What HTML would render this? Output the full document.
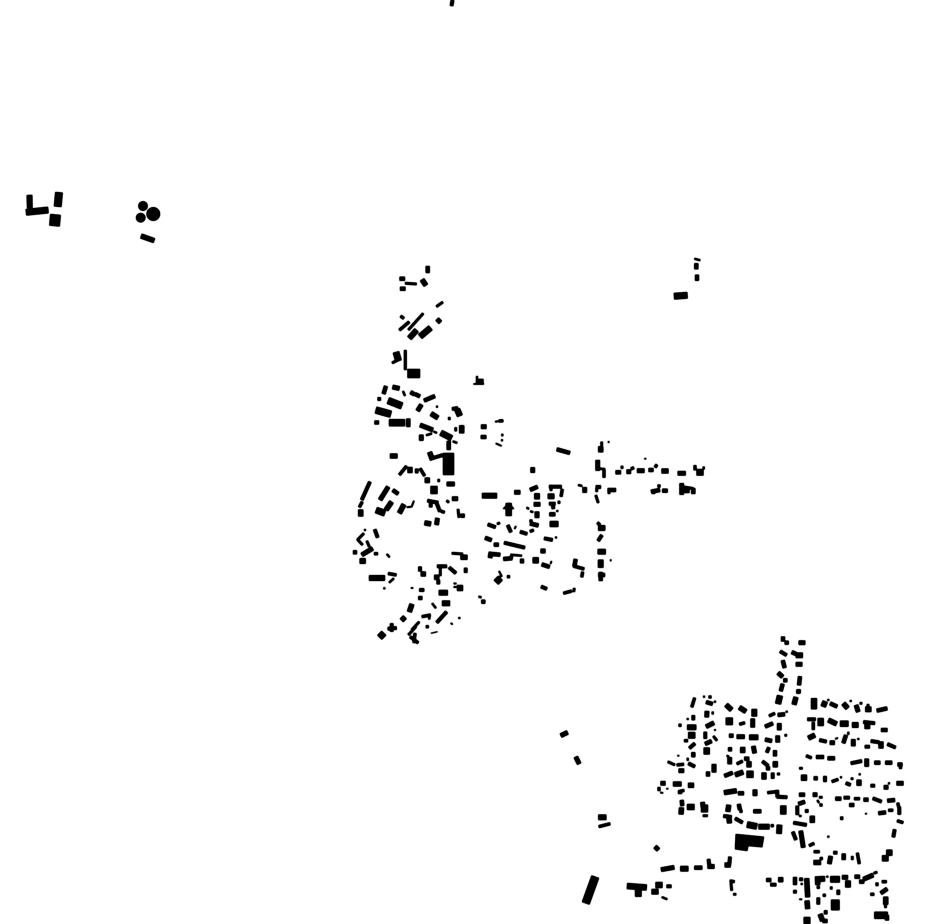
<!DOCTYPE html>
<html><head><meta charset="utf-8"><title>Map</title>
<style>html,body{margin:0;padding:0;background:#fff}svg{display:block}</style></head>
<body>
<svg width="930" height="924" viewBox="0 0 930 924" xmlns="http://www.w3.org/2000/svg" fill="none" stroke="#000">
<defs><filter id="f" filterUnits="userSpaceOnUse" x="0" y="0" width="930" height="924" color-interpolation-filters="sRGB"><feGaussianBlur stdDeviation="0.6"/><feComponentTransfer><feFuncA type="linear" slope="2.2" intercept="-0.1"/></feComponentTransfer></filter></defs>
<g filter="url(#f)">
<path stroke-width="3.5" d="M452.5 0L451.5 6"/>
<path stroke-width="5.5" d="M29.5 195L29.8 208"/>
<path stroke-width="6.5" d="M26 212.3L48.3 210"/>
<path stroke-width="7.5" d="M59 192.3L57.7 206.7"/>
<path stroke-width="10.5" d="M55.5 214.5L54.5 226"/>
<circle cx="143" cy="206" r="4.7" fill="#000" stroke="none"/>
<circle cx="140.7" cy="217.7" r="4.7" fill="#000" stroke="none"/>
<circle cx="153.3" cy="214" r="6.7" fill="#000" stroke="none"/>
<path stroke-width="5" d="M141 236L154.3 240.7"/>
<path stroke-width="2" d="M694.3 258.7L700.3 260.3"/>
<path stroke-width="4" d="M696.3 263.3v6M697 274.7v6"/>
<path stroke-width="6.5" d="M674 296.3L687.5 295.3"/>
<path stroke-width="4" d="M427.7 266v7"/>
<path stroke-width="4" d="M399.5 278.7h5.5M400 288.7h5.5"/>
<path stroke-width="2.5" d="M405 283.3L416.7 284"/>
<path stroke-width="5" d="M422 279.5L426 285.5"/>
<path stroke-width="2.5" d="M436.3 306.7L443 302"/>
<path stroke-width="3" d="M400.5 316L404 318.5"/>
<path stroke-width="3" d="M399.3 330.3L409.3 321.7"/>
<path stroke-width="2.5" d="M408.3 330L423.3 313.3"/>
<path stroke-width="5.5" d="M409.3 338.3L416.7 330"/>
<path stroke-width="6" d="M420 336.7L430.7 327.7"/>
<path stroke-width="4.5" d="M437 319L440.5 322.5"/>
<path stroke-width="6.5" d="M396 352L398.5 361"/>
<path stroke-width="2.5" d="M392 363L400 359"/>
<path stroke-width="2.7" d="M405.3 350V370"/>
<path stroke-width="9" d="M407.5 373.5H420"/>
<path stroke-width="2" d="M477 376v8"/>
<path stroke-width="5.5" d="M476.5 381.7h7"/>
<path stroke-width="1.3" d="M473.3 384H484"/>
<path stroke-width="4" d="M386 386L383.5 394"/>
<path stroke-width="4.5" d="M392.5 387L399.5 388.5"/>
<path stroke-width="2" d="M403 391L405 396"/>
<path stroke-width="4" d="M410.5 392L414.5 394.5M415 394L420 396.5"/>
<path stroke-width="4" d="M424 400.7L435 396"/>
<path stroke-width="4.5" d="M421.5 404.5L417.5 411"/>
<path stroke-width="2" d="M436 406.7h2"/>
<path stroke-width="3.5" d="M377.5 399h3.5"/>
<path stroke-width="7" d="M388 400.5L402 406"/>
<path stroke-width="7" d="M375.7 410L391 414.3"/>
<path stroke-width="4.5" d="M376.7 420.5v4"/>
<path stroke-width="7" d="M389 422.7H405"/>
<path stroke-width="4" d="M408.3 418.5v8.5"/>
<path stroke-width="3.5" d="M452 409L458 408"/>
<path stroke-width="6" d="M457 409L460 416"/>
<path stroke-width="5" d="M431 413.5L438 418"/>
<path stroke-width="2.5" d="M449.3 417v3"/>
<path stroke-width="4.5" d="M420 425L433 430"/>
<path stroke-width="2" d="M433.5 431.5L437 433"/>
<path stroke-width="6" d="M440.7 432.7L451.7 438.3"/>
<path stroke-width="4.5" d="M421.3 434.7v6"/>
<path stroke-width="2" d="M426 435.3L432 433.5"/>
<path stroke-width="5" d="M461.7 425.3v8"/>
<path stroke-width="2.5" d="M455.7 427.3v4"/>
<path stroke-width="4" d="M448.7 441v9"/>
<path stroke-width="2" d="M452.7 441.3L457.3 443"/>
<path stroke-width="4.5" d="M481 426.7h5.5"/>
<path stroke-width="4" d="M480.8 437h5.5"/>
<path stroke-width="1.5" d="M495 421.7L498.3 421.3"/>
<path stroke-width="3" d="M498.7 421L503.3 420.7"/>
<path stroke-width="2" d="M502.3 433.7v2.5M502 439.3v2"/>
<path stroke-width="1.5" d="M495.7 443.3L501.7 446"/>
<path stroke-width="5" d="M390 456h7.5"/>
<path stroke-width="5" d="M429.5 452L432.5 460"/>
<path stroke-width="3.5" d="M433 458L443 455"/>
<path stroke-width="11" d="M448.5 453V475"/>
<path stroke-width="3" d="M399.3 475L406.7 466"/>
<path stroke-width="5" d="M410 467v6"/>
<path stroke-width="3.5" d="M416.7 468.7v4.5"/>
<path stroke-width="3" d="M420 468.3L424.7 476"/>
<path stroke-width="5.5" d="M424.8 480.3h5"/>
<path stroke-width="2.5" d="M438.7 479v3"/>
<path stroke-width="4.5" d="M446.7 484h8"/>
<path stroke-width="7" d="M434 486v8"/>
<path stroke-width="4.5" d="M452 498.7h6"/>
<path stroke-width="2.5" d="M446.5 500.5L449 502.5"/>
<path stroke-width="3.5" d="M427.3 500.7L438.3 502.7"/>
<path stroke-width="3.5" d="M430.7 503.3v4"/>
<path stroke-width="3.5" d="M436.7 503.3L440 511.7"/>
<path stroke-width="3" d="M440.7 511L444.7 512.5"/>
<path stroke-width="2.5" d="M458 509L459 517.7"/>
<path stroke-width="4" d="M460.7 515.7h4"/>
<path stroke-width="5" d="M424.5 522.8L431 524"/>
<path stroke-width="4.5" d="M437.5 518L436.5 525"/>
<path stroke-width="3.5" d="M370 481.7L361.7 500"/>
<path stroke-width="3" d="M362.3 501.7L359.3 507.3"/>
<path stroke-width="5" d="M360.7 509.5v7"/>
<path stroke-width="4.5" d="M388.3 486.7L380 500"/>
<path stroke-width="4" d="M392.7 490L398.3 494"/>
<path stroke-width="5" d="M391.7 501.7L386 510"/>
<path stroke-width="6.5" d="M376 510L385 513.3"/>
<path stroke-width="5" d="M404 504.3L399.3 513.3"/>
<path stroke-width="1.5" d="M414 500.7L411.7 506.7L406.7 507.3"/>
<path stroke-width="2" d="M364 530h2"/>
<path stroke-width="3.5" d="M374.7 529.3L377.7 537.7"/>
<path stroke-width="2.5" d="M357.3 540L364 533.3"/>
<path stroke-width="2.5" d="M357.3 539.3L362.7 545"/>
<path stroke-width="2.5" d="M366.7 540.7L369.3 546.7"/>
<path stroke-width="4.5" d="M361.7 555L372.7 548.3"/>
<path stroke-width="4" d="M353 552.3h4"/>
<path stroke-width="3" d="M374 553.7h4"/>
<path stroke-width="2" d="M386.7 554L389.7 557.3"/>
<path stroke-width="5.5" d="M359.7 561h6"/>
<path stroke-width="5.5" d="M369 578H385"/>
<path stroke-width="3" d="M388 573.5L396.5 575"/>
<path stroke-width="2" d="M389 582.7L394 578.3"/>
<path stroke-width="2" d="M383.3 588.3h2"/>
<path stroke-width="1.5" d="M410.8 588h2.5"/>
<path stroke-width="3.5" d="M420 566.5v5"/>
<path stroke-width="5" d="M420.8 574h5"/>
<path stroke-width="3.5" d="M437 566.3h10"/>
<path stroke-width="2.5" d="M440.3 567v9"/>
<path stroke-width="3.5" d="M449 567.3L456 573.3"/>
<path stroke-width="3.5" d="M465.7 567.8v5"/>
<path stroke-width="5" d="M434.2 577.3h5"/>
<path stroke-width="3.5" d="M438.3 579.8v4.5"/>
<path stroke-width="2.5" d="M451.7 553.3L463 554"/>
<path stroke-width="5" d="M460.5 557.3h7"/>
<path stroke-width="6" d="M457 588h6"/>
<path stroke-width="1.5" d="M453.5 583.5h3M453.5 587h3"/>
<path stroke-width="3.5" d="M419.2 590h5"/>
<path stroke-width="4" d="M418.3 598h4"/>
<path stroke-width="5.5" d="M438.8 592.7h9"/>
<path stroke-width="5.5" d="M442 603.3h8"/>
<path stroke-width="2" d="M432 603.3L436 608.3"/>
<path stroke-width="5" d="M412 604L409.3 612"/>
<path stroke-width="5" d="M401.5 620.5L405 617"/>
<path stroke-width="3" d="M421.7 616.7L430.7 615"/>
<path stroke-width="3" d="M428.3 618h2"/>
<path stroke-width="3.5" d="M436.7 622.7L446.7 611.7"/>
<path stroke-width="2" d="M458.3 618h2"/>
<path stroke-width="1.5" d="M450.7 623L452.7 624.5"/>
<path stroke-width="3" d="M425.8 626.7h3"/>
<path stroke-width="1" d="M430.7 633.3L437.7 631.7"/>
<path stroke-width="2.5" d="M411.7 630L419.3 621.7"/>
<path stroke-width="2.5" d="M408.3 635L416 626.7"/>
<path stroke-width="3" d="M410 636.7L418.3 643"/>
<path stroke-width="3" d="M415 633L414 643"/>
<path stroke-width="3.5" d="M387.7 628.7L396.7 628"/>
<path stroke-width="3.5" d="M391.7 623.3V631.7"/>
<path stroke-width="6.5" d="M379.5 637.5L384 633"/>
<path stroke-width="5.5" d="M482 495.7H497"/>
<path stroke-width="4.5" d="M514.3 492.3h6"/>
<path stroke-width="6" d="M508.7 516V503"/>
<polygon fill="#000" stroke="none" points="502.5,509 508.7,502.5 514.5,509"/>
<path stroke-width="4.5" d="M532.7 467.3v5.5"/>
<path stroke-width="4" d="M530 490L537.7 486.7"/>
<path stroke-width="5.5" d="M537 493.3v6"/>
<path stroke-width="4.5" d="M533.8 504.3h6.5"/>
<path stroke-width="2" d="M526.5 507.5L529 509"/>
<path stroke-width="2" d="M530.2 511.2L533.2 512.2"/>
<path stroke-width="4.5" d="M537 511.5v6.5"/>
<path stroke-width="3" d="M529.5 521h3"/>
<path stroke-width="4" d="M530 523.5L538.5 525.5"/>
<path stroke-width="3.5" d="M549 486.7h12.7"/>
<path stroke-width="3" d="M562.3 489L561 496.7"/>
<path stroke-width="2.5" d="M551 488v3"/>
<path stroke-width="5.5" d="M547.8 496.3h6.5"/>
<path stroke-width="3.5" d="M549 503.7h6.5"/>
<path stroke-width="3.5" d="M552.5 503.7L553.5 509"/>
<path stroke-width="2.5" d="M559 500.8v3"/>
<path stroke-width="4" d="M549.3 514.3h6"/>
<path stroke-width="2" d="M556.3 511h2"/>
<path stroke-width="6" d="M549.8 524h8.5"/>
<path stroke-width="3.5" d="M487.7 524.3L495.7 527.3"/>
<path stroke-width="2.5" d="M497 524L500 522.8"/>
<path stroke-width="3.5" d="M507.7 525L511 532.3"/>
<path stroke-width="1.5" d="M514.5 529L516 526"/>
<path stroke-width="3.5" d="M520 531.7L527.3 534"/>
<path stroke-width="3" d="M529.8 531.5L533.8 530"/>
<path stroke-width="3.5" d="M544 538.3L552.7 540"/>
<path stroke-width="2" d="M555 537.5h2"/>
<path stroke-width="4" d="M485 537.7L491.7 540.3"/>
<path stroke-width="4" d="M493.8 544.7h5"/>
<path stroke-width="3.5" d="M504 542.7L525 547.7"/>
<path stroke-width="4.5" d="M540.5 551h5"/>
<path stroke-width="5.5" d="M597.7 551.7h8"/>
<path stroke-width="4" d="M489 553.7L500.3 554.7"/>
<path stroke-width="4.5" d="M491 552L490 558"/>
<path stroke-width="4" d="M503.3 559L512.3 558.3"/>
<path stroke-width="2" d="M511 554.7L522 555.7"/>
<path stroke-width="3" d="M512 554L511 559"/>
<path stroke-width="4.5" d="M520 561h4"/>
<path stroke-width="6" d="M532.7 560.3h6"/>
<path stroke-width="4" d="M541.7 564.3L549.7 567"/>
<path stroke-width="1.5" d="M551.5 561L550.5 564"/>
<path stroke-width="4" d="M575.7 559L574.3 566.7"/>
<path stroke-width="3" d="M573.3 566L584.3 569"/>
<path stroke-width="3" d="M582.7 571.7L581.7 577.3"/>
<path stroke-width="5.5" d="M600.7 559.7v8"/>
<path stroke-width="4" d="M598.3 575H605"/>
<path stroke-width="4" d="M600.7 572v9"/>
<path stroke-width="1.5" d="M610.7 559.3v2"/>
<path stroke-width="3" d="M597.3 522.5L600 525"/>
<path stroke-width="5.5" d="M598.2 528h7"/>
<path stroke-width="3.5" d="M598 541L602 535"/>
<path stroke-width="6.5" d="M496 582.5L500.5 578"/>
<path stroke-width="3" d="M507 576.7h3"/>
<path stroke-width="1.7" d="M499 571L501.5 576L497 578"/>
<path stroke-width="3.5" d="M541 586.5L547 589"/>
<path stroke-width="3" d="M563.3 593.3L571.7 591"/>
<path stroke-width="2.5" d="M574.3 588L573.7 592"/>
<path stroke-width="2" d="M478.5 596.5L481.5 597.5"/>
<path stroke-width="4" d="M481.3 601.7h4"/>
<path stroke-width="4" d="M556.7 449.3L570 453"/>
<path stroke-width="2.5" d="M601.7 441.7v4"/>
<path stroke-width="1.7" d="M607.8 442h1.7"/>
<path stroke-width="5" d="M600.7 446.3v6"/>
<path stroke-width="4.5" d="M597.7 460v10.7"/>
<path stroke-width="2" d="M599 468.7L605 469"/>
<path stroke-width="3" d="M604 469v8.7"/>
<path stroke-width="4" d="M615.5 472.3h5.5"/>
<path stroke-width="2.5" d="M622 465.8v3"/>
<path stroke-width="4.5" d="M626.5 471.7h4.5"/>
<path stroke-width="3" d="M631 469L634 467.5"/>
<path stroke-width="4.5" d="M637 470.7h7.5"/>
<path stroke-width="1.5" d="M644.3 458.7h2"/>
<path stroke-width="4" d="M648.5 470h5"/>
<path stroke-width="3" d="M655 467.5L657 464.5"/>
<path stroke-width="5" d="M661.5 471h7"/>
<path stroke-width="4.5" d="M677.7 473.3h8"/>
<path stroke-width="3" d="M695 465.2v5"/>
<path stroke-width="6.5" d="M696.5 472.3h7"/>
<path stroke-width="2" d="M703.7 466.5v3"/>
<path stroke-width="2" d="M578 485L582.3 486"/>
<path stroke-width="4.5" d="M584.7 487.2v5.5"/>
<path stroke-width="3.5" d="M595.7 487h5.3"/>
<path stroke-width="2.5" d="M596.7 488v4"/>
<path stroke-width="2.5" d="M595.7 495L598.3 503"/>
<path stroke-width="4" d="M607.7 490h8.3"/>
<path stroke-width="2.5" d="M609 488v6"/>
<path stroke-width="4" d="M651 491.7L660 490"/>
<path stroke-width="3" d="M653.5 490v4"/>
<path stroke-width="3" d="M657.5 486h3"/>
<path stroke-width="4" d="M662.2 490.7h5.5"/>
<path stroke-width="4.5" d="M681.7 483.2v11.5"/>
<path stroke-width="2.5" d="M681.7 486.7L693.3 488.5"/>
<path stroke-width="4" d="M693.3 488v6"/>
<path stroke-width="4" d="M684.5 491h5"/>
<path stroke-width="4.5" d="M560.7 735.7L567.7 732.3"/>
<path stroke-width="4.5" d="M575.7 756.7L579.3 764"/>
<path stroke-width="5.5" d="M598.3 817.3h8"/>
<path stroke-width="3" d="M598.7 826.7L610.3 823.7"/>
<path stroke-width="4.5" d="M655 846.5L658.5 850"/>
<path stroke-width="8" d="M595.3 876.7L585.7 903.3"/>
<path stroke-width="6" d="M627 886L646.7 887.5"/>
<path stroke-width="6.5" d="M638.3 886V896.7"/>
<path stroke-width="5.5" d="M651.5 891.7h7"/>
<path stroke-width="6" d="M655.5 885h7"/>
<path stroke-width="3.5" d="M666.5 886.3h5"/>
<path stroke-width="2" d="M661.7 897L667.3 899.3"/>
<path stroke-width="4" d="M783 636.5v5"/>
<path stroke-width="4" d="M784.7 642.7h4"/>
<path stroke-width="4.5" d="M798.7 642.7h6.5"/>
<path stroke-width="3.5" d="M780 651.3L786.7 655.3"/>
<path stroke-width="4" d="M791.7 652L796 654"/>
<path stroke-width="5.5" d="M795.8 655.3h7"/>
<path stroke-width="4" d="M782.7 660.3L784.7 668"/>
<path stroke-width="4.5" d="M795.8 664.3h6.5"/>
<path stroke-width="4.5" d="M778 672.7L782.7 677"/>
<path stroke-width="4" d="M783.3 680.3h4"/>
<path stroke-width="4" d="M800 676.3L799 685.3"/>
<path stroke-width="4" d="M782.7 683.7L780.7 691.3"/>
<path stroke-width="4" d="M796.7 691.3h4"/>
<path stroke-width="6" d="M780 695.5L778 704"/>
<path stroke-width="5" d="M796 697L794 704.7"/>
<path stroke-width="6" d="M814 698.2v11"/>
<path stroke-width="3" d="M694.7 697.7L691.7 707.3"/>
<path stroke-width="2" d="M703 696.7h2"/>
<path stroke-width="3" d="M708.5 697h3"/>
<path stroke-width="4" d="M706 702L712.7 704"/>
<path stroke-width="2" d="M714 701.7h2"/>
<path stroke-width="5" d="M726 704.7L731.7 710"/>
<path stroke-width="5" d="M739.3 707.3L746 711.7"/>
<path stroke-width="5.5" d="M754.3 709v7.5"/>
<path stroke-width="4.5" d="M707 711L706.7 717.3"/>
<path stroke-width="2" d="M712.7 711.5v3"/>
<path stroke-width="3.5" d="M693.3 715.2v5"/>
<path stroke-width="2" d="M686.7 719h2"/>
<path stroke-width="3" d="M678.5 725.3h3"/>
<path stroke-width="5.5" d="M687.2 727.3h9"/>
<path stroke-width="4.5" d="M706 726.7L714 722.7"/>
<path stroke-width="7.5" d="M725.8 721.3h7"/>
<path stroke-width="3" d="M739.3 724.3L745 722.7"/>
<path stroke-width="4.5" d="M752.7 718.5v9"/>
<path stroke-width="4" d="M765 726.7L773 723.3"/>
<path stroke-width="4.5" d="M779.3 723.2v7"/>
<path stroke-width="3" d="M769 716L775 713.3"/>
<path stroke-width="4" d="M777.7 715L785 714.3"/>
<path stroke-width="2" d="M785.7 711.7h2"/>
<path stroke-width="6.5" d="M688.2 735.3h7"/>
<path stroke-width="3" d="M684 740.7h4"/>
<path stroke-width="3.5" d="M695 743.3L689.3 748.3"/>
<path stroke-width="1.5" d="M714 730h2"/>
<path stroke-width="3.5" d="M705.3 731.8v7"/>
<path stroke-width="2.5" d="M713.3 736L717 740.7"/>
<path stroke-width="4" d="M705 744L711.7 741"/>
<path stroke-width="6" d="M706.7 747.5v7"/>
<path stroke-width="4" d="M729 735.7h4.5"/>
<path stroke-width="4.5" d="M736.7 736.7h8"/>
<path stroke-width="5.5" d="M749.2 737.3h9"/>
<path stroke-width="4" d="M765 739.5L772 741"/>
<path stroke-width="4.5" d="M777.7 735.5v7"/>
<path stroke-width="2.5" d="M784.5 735.3h2.5"/>
<path stroke-width="4" d="M728 749.3h4"/>
<path stroke-width="5" d="M742.7 747v6"/>
<path stroke-width="4.5" d="M753.3 746L754.7 753.3"/>
<path stroke-width="3.5" d="M769 747.3L766.7 752.7"/>
<path stroke-width="4" d="M775 750.3v6"/>
<path stroke-width="4" d="M693.3 752.2v5"/>
<path stroke-width="2" d="M687.7 757.8v3"/>
<path stroke-width="1.5" d="M677.3 755.7h2"/>
<path stroke-width="2.5" d="M667.7 761.7L675 765"/>
<path stroke-width="3" d="M676.7 765L684 764.3"/>
<path stroke-width="3.5" d="M688.3 763.3L695 766.7"/>
<path stroke-width="4.5" d="M678.6 770.7h5.5"/>
<path stroke-width="4.5" d="M729.7 757.2v7"/>
<path stroke-width="2" d="M726.7 755.5L729 757"/>
<path stroke-width="3" d="M736.7 764L742.7 761"/>
<path stroke-width="4" d="M744.2 758.7h5"/>
<path stroke-width="5" d="M749 761.3v6"/>
<path stroke-width="3.5" d="M762.3 761.3L768.3 766"/>
<path stroke-width="4" d="M768 766.3v4"/>
<path stroke-width="5" d="M775.3 761.3v6"/>
<path stroke-width="4.5" d="M714 764v8.5"/>
<path stroke-width="4" d="M708 771.5v5"/>
<path stroke-width="4" d="M724.3 776L732.7 772.7"/>
<path stroke-width="5" d="M735 775L743.3 772"/>
<path stroke-width="7" d="M746.5 774.3h7"/>
<path stroke-width="5" d="M764 772.5v7"/>
<path stroke-width="3.5" d="M772.7 772.7v6"/>
<path stroke-width="2.5" d="M777 774h3"/>
<path stroke-width="4" d="M798.3 689.7v4"/>
<path stroke-width="6" d="M821.7 703L826.7 705"/>
<path stroke-width="4" d="M830 703.3L837.3 706.7"/>
<path stroke-width="2" d="M827.3 700h2"/>
<path stroke-width="5" d="M843.3 703.3L847.7 708.3"/>
<path stroke-width="2" d="M849.7 701h2"/>
<path stroke-width="4.5" d="M856 705L858.3 712"/>
<path stroke-width="2.5" d="M859.7 703.3h2.5"/>
<path stroke-width="5.5" d="M865.3 709.3h6"/>
<path stroke-width="2.5" d="M868 704v4"/>
<path stroke-width="4" d="M876.7 710.7L887.3 708.3"/>
<path stroke-width="3.5" d="M807.3 719.3h8.4"/>
<path stroke-width="3" d="M813.3 722v8"/>
<path stroke-width="6" d="M820.7 718v8"/>
<path stroke-width="5" d="M828.3 720L836.7 724"/>
<path stroke-width="6" d="M840 723.7h8.5"/>
<path stroke-width="5.5" d="M852 725h6.5"/>
<path stroke-width="3.5" d="M863.3 722L875 723.3"/>
<path stroke-width="5.5" d="M867.3 723.7V729"/>
<path stroke-width="4" d="M881 730h6.5"/>
<path stroke-width="5" d="M808.3 738.3L815 735"/>
<path stroke-width="3.5" d="M819.3 740L826.7 741.7"/>
<path stroke-width="4.5" d="M829.8 742.7h5"/>
<path stroke-width="1.5" d="M835.2 739L838 737.8"/>
<path stroke-width="4" d="M846 735L843.3 743.3"/>
<path stroke-width="3" d="M847.3 733.3h2"/>
<path stroke-width="4.5" d="M853.3 739.2v7"/>
<path stroke-width="2" d="M857.3 739h2"/>
<path stroke-width="3.5" d="M864.8 746.7h5"/>
<path stroke-width="3.5" d="M870.7 741L879.3 742.3"/>
<path stroke-width="5" d="M881 741.5v7"/>
<path stroke-width="3.5" d="M887.3 744L895.7 747.7"/>
<path stroke-width="3" d="M806 755.7L811.7 758"/>
<path stroke-width="4" d="M816 757h8"/>
<path stroke-width="4" d="M827.5 758.3h7.5"/>
<path stroke-width="2.5" d="M799.2 768.3h3.5"/>
<path stroke-width="3.5" d="M850.7 763.3L862 761"/>
<path stroke-width="4.5" d="M866.7 758.7v8"/>
<path stroke-width="4" d="M874.3 762.7h6"/>
<path stroke-width="4" d="M885.2 762.7h7"/>
<path stroke-width="4" d="M897.5 764.5h5"/>
<path stroke-width="3" d="M900.5 765v4"/>
<path stroke-width="6" d="M801 777.7h6"/>
<path stroke-width="4" d="M813.7 778.3h4"/>
<path stroke-width="3.5" d="M825 776v6"/>
<path stroke-width="3" d="M831.7 781.7L838.3 779.3"/>
<path stroke-width="2" d="M840 777.3h2"/>
<path stroke-width="3.5" d="M845.7 783L850.7 785"/>
<path stroke-width="2.5" d="M850.8 778.7h2.5"/>
<path stroke-width="5" d="M859 779.7v6"/>
<path stroke-width="2" d="M858.7 774.3h2"/>
<path stroke-width="3.5" d="M870.5 785.7h4.5"/>
<path stroke-width="4.5" d="M883.8 787.3h4.5"/>
<path stroke-width="2" d="M888 783.3h2"/>
<path stroke-width="4.5" d="M896.5 783.3h7"/>
<path stroke-width="4.5" d="M660.5 783.3h5"/>
<path stroke-width="5" d="M673 784h8.5"/>
<path stroke-width="3" d="M678.3 791.7L684.3 790.3"/>
<path stroke-width="4" d="M680 791v3"/>
<path stroke-width="5" d="M688 785.3h6"/>
<path stroke-width="3" d="M659 787v4"/>
<path stroke-width="1.5" d="M660.2 792.5L663.2 793"/>
<path stroke-width="1.5" d="M666.3 788.7h2"/>
<path stroke-width="5" d="M724 792.7L736.7 790.7"/>
<path stroke-width="4" d="M738 793.3h6"/>
<path stroke-width="4.5" d="M755 789.5v6.5"/>
<path stroke-width="3" d="M767.3 792.7L776 791.7"/>
<path stroke-width="3.5" d="M777.3 790v7.3"/>
<path stroke-width="3.5" d="M776.7 796.7L787.3 797.3"/>
<path stroke-width="4" d="M681.7 800L682.3 806"/>
<path stroke-width="5" d="M681.5 807.5L681 814.5"/>
<path stroke-width="6" d="M687 807h7.5"/>
<path stroke-width="4.5" d="M702.5 802L703 807"/>
<path stroke-width="7.5" d="M701 808.5h7"/>
<path stroke-width="2.5" d="M702.8 815.7h5"/>
<path stroke-width="5" d="M728.8 804.8L727.8 811.8"/>
<path stroke-width="4" d="M738.7 804L740 810"/>
<path stroke-width="3" d="M739.5 811.3h3"/>
<path stroke-width="4" d="M753.3 811.3h8"/>
<path stroke-width="6" d="M783.3 805.5v9"/>
<path stroke-width="3.5" d="M723.3 816L731.7 817"/>
<path stroke-width="5" d="M729 818L729.5 823.3"/>
<path stroke-width="3.5" d="M735 818.3L742.7 822.7"/>
<path stroke-width="6.5" d="M747 824.5L757 826.5"/>
<path stroke-width="5.5" d="M758.5 826.7h11"/>
<path stroke-width="3" d="M770.8 825.7h3"/>
<path stroke-width="5.5" d="M779.5 824.8L779 833.8"/>
<polygon fill="#000" stroke="none" points="735.7,834 764,836.7 762.3,847.3 748.3,846 747.3,851 735,849.3"/>
<path stroke-width="4.5" d="M661 869.7L674.3 867.3"/>
<path stroke-width="5.5" d="M680.3 868.7h8"/>
<path stroke-width="4" d="M694.3 867.7h8"/>
<path stroke-width="3.5" d="M708.5 859L709.5 867"/>
<path stroke-width="4.5" d="M707.5 866.5h7"/>
<path stroke-width="3.5" d="M730 856.7L729.3 865"/>
<path stroke-width="5" d="M724.7 865h6"/>
<path stroke-width="3" d="M729.7 881L734.7 881.7"/>
<path stroke-width="2.5" d="M731 883L731.7 890.7"/>
<path stroke-width="2.5" d="M733.2 894.3h3"/>
<path stroke-width="4" d="M766.2 880h5"/>
<path stroke-width="3.5" d="M770.3 884.7h6"/>
<path stroke-width="5" d="M778.2 879.7h5"/>
<path stroke-width="4" d="M799 794.7h6"/>
<path stroke-width="4" d="M798.3 804L805 801.7"/>
<path stroke-width="2.5" d="M795.5 807h3"/>
<path stroke-width="4.5" d="M812.8 794.7h4.5"/>
<path stroke-width="2.5" d="M819 797.3h3.5"/>
<path stroke-width="2" d="M817.3 800L819 803"/>
<path stroke-width="3" d="M819.5 805h3"/>
<path stroke-width="4" d="M835.3 798.7h6"/>
<path stroke-width="3.5" d="M843.7 797.7h6"/>
<path stroke-width="3" d="M854 798.7h6"/>
<path stroke-width="4" d="M863.5 799.7h5"/>
<path stroke-width="3.5" d="M872.7 798.3L881.7 801.7"/>
<path stroke-width="4" d="M887.3 800.7L895 800"/>
<path stroke-width="3" d="M897.7 802.7L899.3 809.3"/>
<path stroke-width="4" d="M849.2 805h5"/>
<path stroke-width="3.5" d="M797.3 806.5v8.5"/>
<path stroke-width="2" d="M799 816h2.5"/>
<path stroke-width="3.5" d="M805 811h3.5"/>
<path stroke-width="5" d="M812.3 815.8v7"/>
<path stroke-width="3.5" d="M793.3 822.7L806.7 825"/>
<path stroke-width="3" d="M841.7 816.5v3.5"/>
<path stroke-width="1.5" d="M865 813.7h2"/>
<path stroke-width="4" d="M878.3 813.3L886 812.3"/>
<path stroke-width="3" d="M888.2 810.3h5"/>
<path stroke-width="3.5" d="M899.3 806.7v8"/>
<path stroke-width="3" d="M897 820.7L903.3 822.7"/>
<path stroke-width="3.5" d="M894.7 829.3L893.3 837.3"/>
<path stroke-width="3.5" d="M792.7 831.7L796 840"/>
<path stroke-width="4.5" d="M800.7 830.7L803.3 847.7"/>
<path stroke-width="2" d="M827.3 836.7h2"/>
<path stroke-width="3" d="M809 845.7L814.3 843.3"/>
<path stroke-width="3" d="M813.7 851.7h6"/>
<path stroke-width="5" d="M813.5 862.5h7.5"/>
<path stroke-width="3" d="M821.3 857v3"/>
<path stroke-width="4.5" d="M830.7 856L829.3 864"/>
<path stroke-width="3.5" d="M833.3 852.7h4"/>
<path stroke-width="4" d="M843.7 853.5v6.5"/>
<path stroke-width="2.5" d="M852.3 856v4"/>
<path stroke-width="3" d="M857.3 852.7L859.3 864"/>
<path stroke-width="6" d="M886.3 852.7h6"/>
<path stroke-width="6" d="M882 858.3h6.5"/>
<path stroke-width="4" d="M795 877v8"/>
<path stroke-width="3.5" d="M799.3 879.3h3.5"/>
<path stroke-width="2" d="M800.7 884h2"/>
<path stroke-width="5" d="M806.7 878.3L807.7 897.3"/>
<path stroke-width="5.5" d="M815 879.3L825 878.7"/>
<path stroke-width="5" d="M817.7 877v8"/>
<path stroke-width="6.5" d="M830.3 879.3h9.5"/>
<path stroke-width="2" d="M826.3 876.7h2"/>
<path stroke-width="4.5" d="M842 877.3h6"/>
<path stroke-width="5.5" d="M848 880.5v7"/>
<path stroke-width="4" d="M854.5 876.7h5.5"/>
<path stroke-width="4" d="M859.2 881.7h5"/>
<path stroke-width="4.5" d="M863.3 879.3L873.3 875"/>
<path stroke-width="2.5" d="M873.7 873.3L877.3 872"/>
<path stroke-width="3.5" d="M793.2 891.7h3.5"/>
<path stroke-width="3" d="M816.8 887.3h3"/>
<path stroke-width="3" d="M830 888h2.5"/>
<path stroke-width="3.5" d="M838.3 889.8v5"/>
<path stroke-width="3" d="M822.8 895.3h3"/>
<path stroke-width="3.5" d="M818.3 897.5v7"/>
<path stroke-width="8.5" d="M835.3 899.7v10.5"/>
<path stroke-width="1.5" d="M799.2 899.3h3"/>
<path stroke-width="5" d="M807 900.5L807.7 909"/>
<path stroke-width="6.5" d="M807 917v7"/>
<path stroke-width="5" d="M820 914L822.7 921"/>
<path stroke-width="3.5" d="M825.7 910.3v4"/>
<path stroke-width="4" d="M822.5 921h5"/>
<path stroke-width="7" d="M874.3 915.3h13.5"/>
<path stroke-width="4" d="M887 915v5.5"/>
<path stroke-width="3.5" d="M875.5 884.3h3"/>
<path stroke-width="3" d="M881.8 881.7h5"/>
<path stroke-width="4" d="M880.7 893.3L887.3 888.7"/>
<path stroke-width="3" d="M870.3 894.3h4"/>
<path stroke-width="5" d="M885.7 896.7v8"/>
<path stroke-width="2.5" d="M885.5 904v4"/>
</g>
</svg>
</body></html>
